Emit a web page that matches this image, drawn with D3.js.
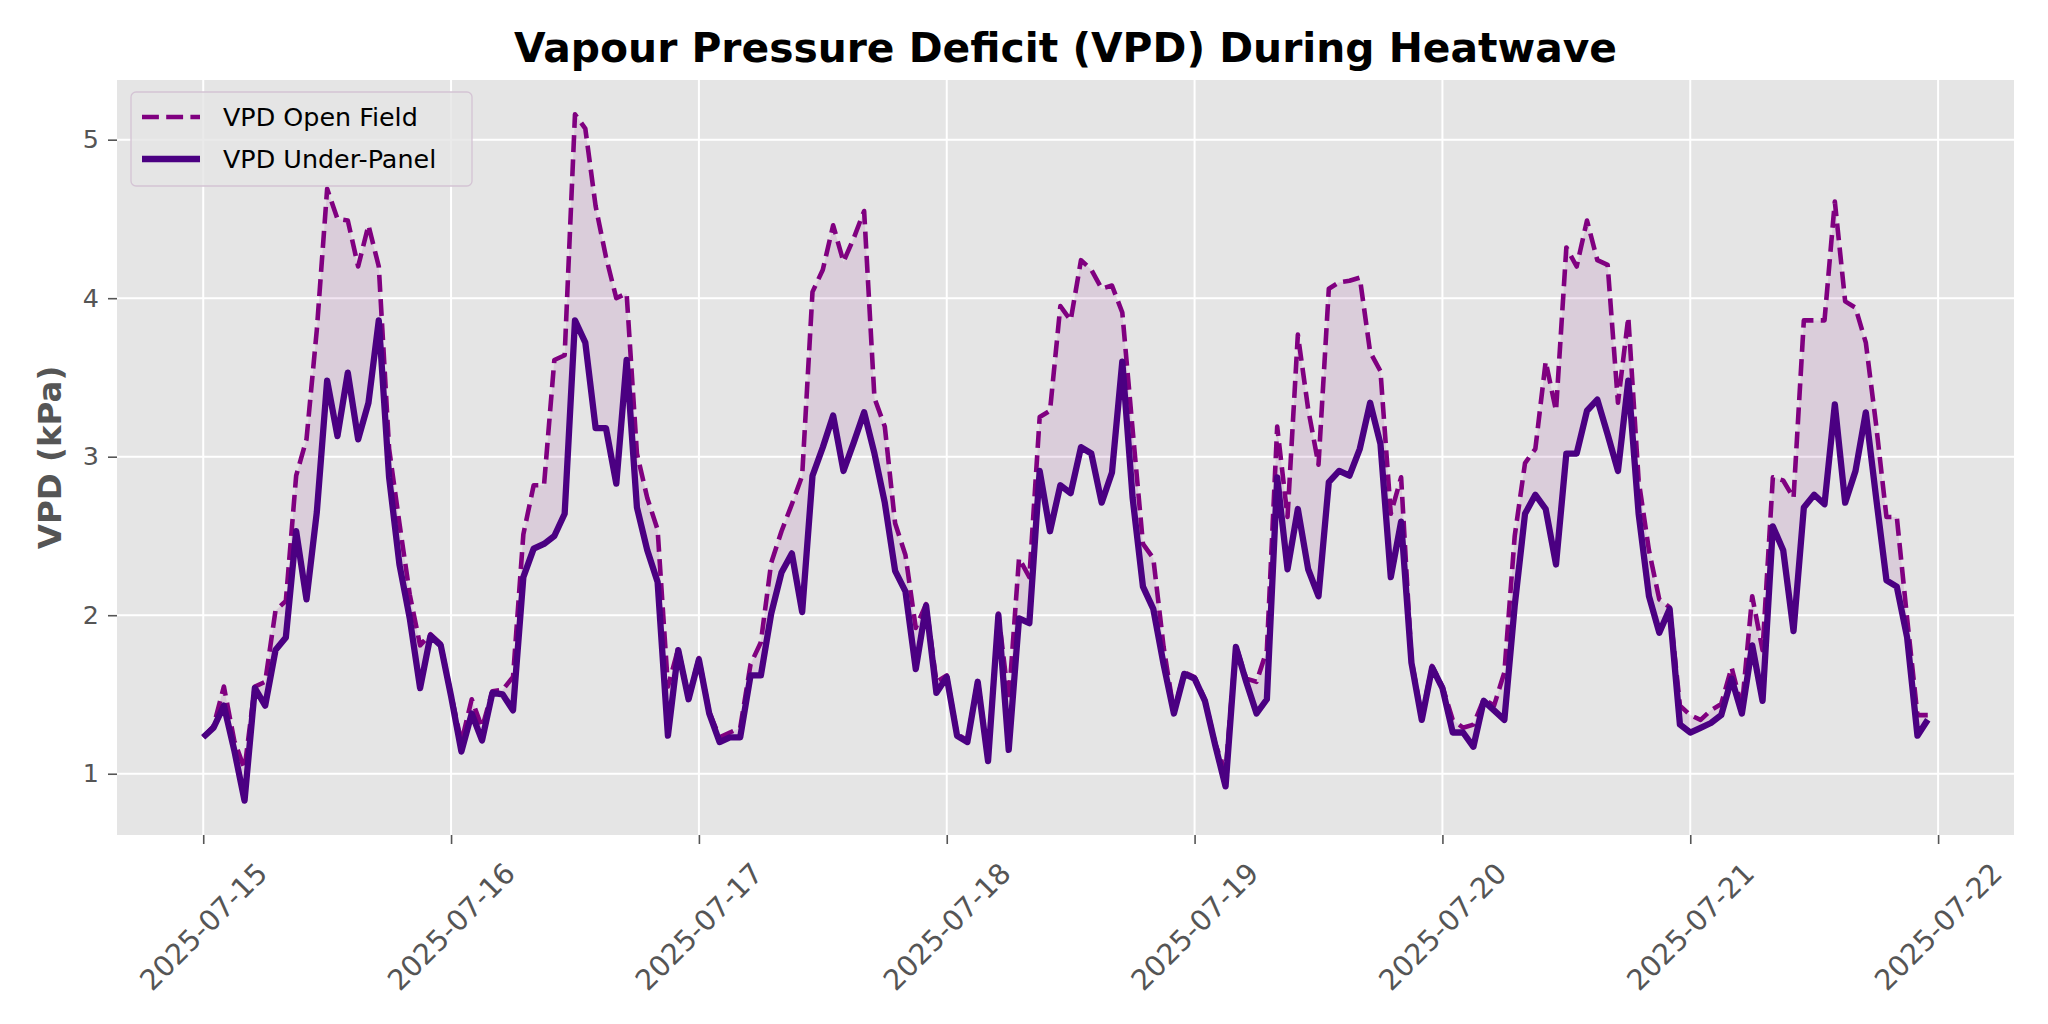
<!DOCTYPE html>
<html>
<head>
<meta charset="utf-8">
<script src="https://cdn.jsdelivr.net/npm/d3@7"></script>
<style>
    body { margin: 0; background: #fff; }
    text { font-family: "DejaVu Sans", sans-serif; }
</style>
</head>
<body>
<div id="chart"></div>
<script>
// hourly readings, 2025-07-15 00:00 to 2025-07-21 23:00
var startTime = new Date(2025, 6, 15, 0, 0);

var vpdOpenField = [
    1.23, 1.30, 1.55, 1.21, 1.03, 1.55, 1.58, 2.03, 2.09, 2.88, 3.11, 3.80, 4.69, 4.50, 4.49, 4.20, 4.46, 4.20, 3.05, 2.58, 2.13, 1.81, 1.88, 1.82,
    1.50, 1.20, 1.47, 1.29, 1.52, 1.53, 1.61, 2.51, 2.82, 2.82, 3.61, 3.64, 5.16, 5.07, 4.58, 4.26, 4.00, 4.03, 3.02, 2.74, 2.54, 1.55, 1.79, 1.48,
    1.73, 1.39, 1.23, 1.26, 1.29, 1.69, 1.83, 2.33, 2.53, 2.70, 2.88, 4.04, 4.18, 4.46, 4.23, 4.38, 4.55, 3.37, 3.19, 2.58, 2.38, 1.92, 2.07, 1.58,
    1.62, 1.25, 1.21, 1.59, 1.09, 2.01, 1.46, 2.36, 2.24, 3.25, 3.29, 3.95, 3.86, 4.24, 4.18, 4.06, 4.08, 3.91, 3.17, 2.45, 2.36, 1.80, 1.39, 1.64,
    1.61, 1.47, 1.19, 1.01, 1.81, 1.60, 1.58, 1.78, 3.19, 2.62, 3.77, 3.30, 2.95, 4.06, 4.10, 4.11, 4.13, 3.66, 3.54, 2.64, 2.87, 1.72, 1.36, 1.68,
    1.55, 1.34, 1.29, 1.31, 1.47, 1.43, 1.64, 2.50, 2.96, 3.05, 3.60, 3.29, 4.32, 4.20, 4.49, 4.24, 4.21, 3.34, 3.88, 2.85, 2.41, 2.10, 2.05, 1.43,
    1.37, 1.34, 1.40, 1.44, 1.67, 1.42, 2.12, 1.78, 2.87, 2.85, 2.74, 3.86, 3.86, 3.86, 4.61, 3.98, 3.94, 3.72, 3.20, 2.62, 2.62, 1.98, 1.37, 1.37
];

var vpdUnderPanel = [
    1.23, 1.29, 1.43, 1.15, 0.83, 1.54, 1.43, 1.78, 1.86, 2.53, 2.10, 2.65, 3.48, 3.13, 3.53, 3.11, 3.34, 3.86, 2.87, 2.32, 1.98, 1.54, 1.87, 1.81,
    1.49, 1.14, 1.38, 1.21, 1.51, 1.50, 1.40, 2.24, 2.42, 2.45, 2.50, 2.64, 3.86, 3.72, 3.18, 3.18, 2.83, 3.61, 2.68, 2.41, 2.21, 1.24, 1.78, 1.47,
    1.72, 1.38, 1.20, 1.23, 1.23, 1.62, 1.62, 2.01, 2.27, 2.39, 2.02, 2.88, 3.06, 3.26, 2.91, 3.09, 3.28, 3.02, 2.71, 2.28, 2.15, 1.66, 2.06, 1.51,
    1.61, 1.24, 1.20, 1.58, 1.08, 2.00, 1.15, 1.98, 1.95, 2.91, 2.53, 2.82, 2.77, 3.06, 3.02, 2.71, 2.90, 3.60, 2.74, 2.18, 2.04, 1.69, 1.38, 1.63,
    1.60, 1.46, 1.18, 0.92, 1.80, 1.58, 1.38, 1.47, 2.87, 2.29, 2.67, 2.29, 2.12, 2.84, 2.91, 2.88, 3.05, 3.34, 3.08, 2.24, 2.59, 1.70, 1.34, 1.67,
    1.54, 1.26, 1.26, 1.17, 1.46, 1.40, 1.34, 2.06, 2.64, 2.76, 2.67, 2.32, 3.02, 3.02, 3.29, 3.36, 3.14, 2.91, 3.48, 2.64, 2.12, 1.89, 2.04, 1.31,
    1.26, 1.29, 1.32, 1.37, 1.60, 1.38, 1.81, 1.46, 2.56, 2.41, 1.90, 2.68, 2.76, 2.70, 3.33, 2.71, 2.91, 3.28, 2.74, 2.22, 2.18, 1.86, 1.24, 1.34
];

var yTicks = [1, 2, 3, 4, 5];
var seriesNames = ["VPD Open Field", "VPD Under-Panel"];

function main() {

    var width = 2048,
        height = 1024;

    // plot area
    var left = 117, right = 2014, top = 80, bottom = 835;

    var svg = d3.select("#chart").append("svg")
        .attr("width", width)
        .attr("height", height);

    // one row per hour
    var rows = vpdOpenField.map(function(v, i) {
        return { t: d3.timeHour.offset(startTime, i), open: v, under: vpdUnderPanel[i] };
    });

    // matplotlib style 5% margins on both axes
    var tExtent = d3.extent(rows, function(d) { return d.t; });
    var tPad = (tExtent[1] - tExtent[0]) * 0.05;
    var x = d3.scaleTime()
        .domain([new Date(+tExtent[0] - tPad), new Date(+tExtent[1] + tPad)])
        .range([left, right]);

    var yMin = d3.min(vpdUnderPanel), yMax = d3.max(vpdOpenField);
    var yPad = (yMax - yMin) * 0.05;
    var y = d3.scaleLinear()
        .domain([yMin - yPad, yMax + yPad])
        .range([bottom, top]);

    // grey panel + white grid
    svg.append("rect")
        .attr("x", left).attr("y", top)
        .attr("width", right - left).attr("height", bottom - top)
        .attr("fill", "#e5e5e5");

    var dayTicks = x.ticks(d3.timeDay.every(1));

    var grid = svg.append("g").attr("stroke", "#fff").attr("stroke-width", 2);
    grid.selectAll(".gx").data(dayTicks).enter().append("line")
        .attr("x1", function(d) { return x(d); })
        .attr("x2", function(d) { return x(d); })
        .attr("y1", top).attr("y2", bottom);
    grid.selectAll(".gy").data(yTicks).enter().append("line")
        .attr("x1", left).attr("x2", right)
        .attr("y1", function(d) { return y(d); })
        .attr("y2", function(d) { return y(d); });

    // shaded gap between the two series
    var area = d3.area()
        .x(function(d) { return x(d.t); })
        .y0(function(d) { return y(d.under); })
        .y1(function(d) { return y(d.open); });

    svg.append("path")
        .datum(rows)
        .attr("d", area)
        .attr("fill", "purple")
        .attr("fill-opacity", 0.1);

    var lineOpen = d3.line()
        .x(function(d) { return x(d.t); })
        .y(function(d) { return y(d.open); });

    var lineUnder = d3.line()
        .x(function(d) { return x(d.t); })
        .y(function(d) { return y(d.under); });

    svg.append("path")
        .datum(rows)
        .attr("d", lineOpen)
        .attr("fill", "none")
        .attr("stroke", "purple")
        .attr("stroke-width", 4.6)
        .attr("stroke-dasharray", "16.9,7.3")
        .attr("stroke-linejoin", "round");

    svg.append("path")
        .datum(rows)
        .attr("d", lineUnder)
        .attr("fill", "none")
        .attr("stroke", "indigo")
        .attr("stroke-width", 6.3)
        .attr("stroke-linejoin", "round");

    // x axis, rotated date labels
    var xAxis = svg.append("g")
        .attr("transform", "translate(0," + bottom + ")")
        .call(d3.axisBottom(x)
            .tickValues(dayTicks)
            .tickFormat(d3.timeFormat("%Y-%m-%d"))
            .tickSize(9));
    xAxis.select(".domain").remove();
    xAxis.selectAll(".tick line").attr("stroke", "#555").attr("stroke-width", 1.6);
    xAxis.selectAll(".tick text")
        .attr("y", 0)
        .attr("dy", null)
        .attr("dominant-baseline", "central")
        .attr("text-anchor", "middle")
        .attr("transform", "translate(0,92) rotate(-45)")
        .attr("fill", "#555")
        .style("font-size", "28.5px")
        .style("font-family", "DejaVu Sans");

    // y axis
    var yAxis = svg.append("g")
        .attr("transform", "translate(" + left + ",0)")
        .call(d3.axisLeft(y)
            .tickValues(yTicks)
            .tickFormat(d3.format("d"))
            .tickSize(9)
            .tickPadding(9));
    yAxis.select(".domain").remove();
    yAxis.selectAll(".tick line").attr("stroke", "#555").attr("stroke-width", 1.6);
    yAxis.selectAll(".tick text")
        .attr("fill", "#555")
        .style("font-size", "25.4px")
        .style("font-family", "DejaVu Sans");

    // labels
    svg.append("text")
        .attr("x", (left + right) / 2)
        .attr("y", 62)
        .attr("text-anchor", "middle")
        .style("font-size", "40.8px")
        .style("font-weight", "bold")
        .text("Vapour Pressure Deficit (VPD) During Heatwave");

    svg.append("text")
        .attr("transform", "translate(50," + (top + bottom) / 2 + ") rotate(-90)")
        .attr("text-anchor", "middle")
        .attr("dominant-baseline", "central")
        .attr("fill", "#555")
        .style("font-size", "32.5px")
        .style("font-weight", "bold")
        .text("VPD (kPa)");

    // legend, upper left
    var legend = svg.append("g");
    legend.append("rect")
        .attr("x", 131).attr("y", 92)
        .attr("width", 341).attr("height", 94)
        .attr("rx", 5)
        .attr("fill", "#e5e5e5")
        .attr("fill-opacity", 0.8)
        .attr("stroke", "#d4c4d4")
        .attr("stroke-width", 1.3);

    var styles = [
        { color: "purple", width: 4.6, dash: "16.9,7.3" },
        { color: "indigo", width: 6.3, dash: null }
    ];
    seriesNames.forEach(function(name, i) {
        var cy = 117 + i * 42;
        legend.append("line")
            .attr("x1", 142).attr("x2", 200)
            .attr("y1", cy).attr("y2", cy)
            .attr("stroke", styles[i].color)
            .attr("stroke-width", styles[i].width)
            .attr("stroke-dasharray", styles[i].dash);
        legend.append("text")
            .attr("x", 223).attr("y", cy)
            .attr("dominant-baseline", "central")
            .style("font-size", "25.4px")
            .text(name);
    });
}

main();
</script>
</body>
</html>
